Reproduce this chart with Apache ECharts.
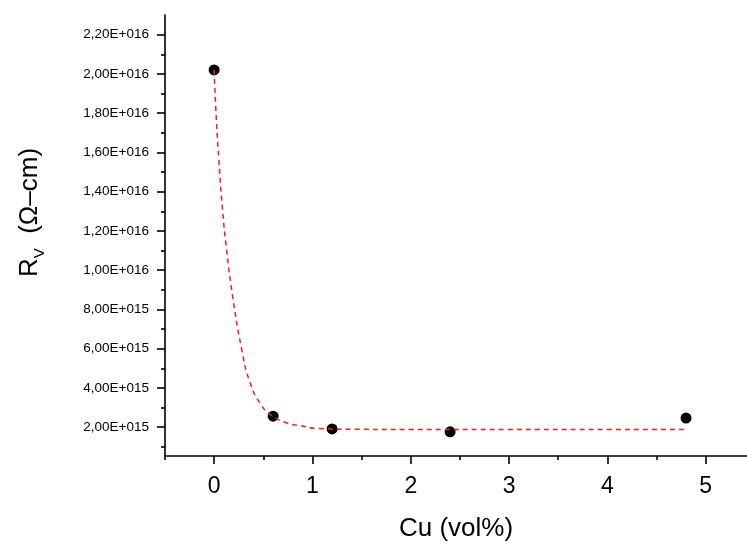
<!DOCTYPE html>
<html>
<head>
<meta charset="utf-8">
<script src="https://cdn.jsdelivr.net/npm/echarts@6/dist/echarts.min.js"></script>
<style>html,body{margin:0;padding:0;background:#fff}#c{width:747px;height:547px}</style>
</head>
<body>
<div id="c"></div>
<script>
// Measured data points
var cuVol = [0, 0.6, 1.2, 2.4, 4.8];
var resistivity = [2.02e16, 2.56e15, 1.91e15, 1.76e15, 2.46e15];

// Fitted curve
var fitX = [0, 0.017, 0.048, 0.085, 0.126, 0.19, 0.279, 0.363, 0.482, 0.6, 0.75, 0.872, 1.06, 1.5, 2.0, 3.0, 4.0, 4.8];
var fitY = [2.02e16, 1.82e16, 1.56e16, 1.31e16, 1.105e16, 8.6e15, 6.0e15, 4.3e15, 3.1e15, 2.54e15, 2.2e15, 2.08e15, 1.93e15, 1.89e15, 1.88e15, 1.88e15, 1.88e15, 1.88e15];

// Tick values
var xTicks = [0, 1, 2, 3, 4, 5];
var xMinorTicks = [-0.5, 0.5, 1.5, 2.5, 3.5, 4.5];
var yTicks = [2e15, 4e15, 6e15, 8e15, 1e16, 1.2e16, 1.4e16, 1.6e16, 1.8e16, 2e16, 2.2e16];
var yMinorTicks = [1e15, 3e15, 5e15, 7e15, 9e15, 1.1e16, 1.3e16, 1.5e16, 1.7e16, 1.9e16, 2.1e16];

function fmtE(v) {
  var e = Math.floor(Math.log10(v) + 1e-9);
  var m = v / Math.pow(10, e);
  return m.toFixed(2).replace('.', ',') + 'E+' + String(e).padStart(3, '0');
}

var FONT = '"Liberation Sans", Arial, sans-serif';
var X_MIN = -0.5, X_MAX = 5.42, Y_MIN = 5.3e14, Y_MAX = 2.3e16;
var axisLineStyle = {color: '#000', width: 1.6};

var chart = echarts.init(document.getElementById('c'));
chart.setOption({
  animation: false,
  backgroundColor: '#fff',
  grid: {left: 165, top: 15, width: 582, height: 442},
  xAxis: [{
    type: 'value', min: X_MIN, max: X_MAX,
    axisLine: {show: true, onZero: false, lineStyle: axisLineStyle},
    axisTick: {show: true, inside: false, length: 8, customValues: xTicks, lineStyle: axisLineStyle},
    axisLabel: {customValues: xTicks, fontSize: 23, color: '#000', margin: 19, fontFamily: FONT},
    splitLine: {show: false},
    name: 'Cu (vol%)', nameLocation: 'middle', nameGap: 60,
    nameTextStyle: {fontSize: 26, color: '#000', fontFamily: FONT}
  }, {
    type: 'value', min: X_MIN, max: X_MAX, position: 'bottom',
    axisLine: {show: false, onZero: false},
    axisTick: {show: true, inside: false, length: 4, customValues: xMinorTicks, lineStyle: axisLineStyle},
    axisLabel: {show: false},
    splitLine: {show: false}
  }],
  yAxis: [{
    type: 'value', min: Y_MIN, max: Y_MAX,
    axisLine: {show: true, onZero: false, lineStyle: axisLineStyle},
    axisTick: {show: true, inside: false, length: 8, customValues: yTicks, lineStyle: axisLineStyle},
    axisLabel: {customValues: yTicks, fontSize: 13.5, color: '#000', margin: 16, fontFamily: FONT, formatter: fmtE},
    splitLine: {show: false},
    name: '{r|R}{s|V}{r|  (Ω–cm)}', nameLocation: 'middle', nameGap: 118, nameRotate: 90,
    nameTextStyle: {
      color: '#000', fontFamily: FONT, padding: [0, 0, 0, 46],
      rich: {
        r: {fontSize: 26, lineHeight: 34, fontFamily: FONT, color: '#000'},
        s: {fontSize: 15, lineHeight: 10, verticalAlign: 'bottom', fontFamily: FONT, color: '#000'}
      }
    }
  }, {
    type: 'value', min: Y_MIN, max: Y_MAX, position: 'left',
    axisLine: {show: false, onZero: false},
    axisTick: {show: true, inside: false, length: 4, customValues: yMinorTicks, lineStyle: axisLineStyle},
    axisLabel: {show: false},
    splitLine: {show: false}
  }],
  series: [{
    type: 'scatter',
    data: cuVol.map(function (x, i) { return [x, resistivity[i]]; }),
    symbol: 'circle', symbolSize: 11,
    itemStyle: {color: '#000', opacity: 1},
    z: 2
  }, {
    type: 'line',
    data: fitX.map(function (x, i) { return [x, fitY[i]]; }),
    showSymbol: false, symbol: 'none',
    smooth: 0.5,
    lineStyle: {color: '#ff1a1a', width: 1.5, type: [5, 4]},
    z: 3
  }]
});
</script>
</body>
</html>
